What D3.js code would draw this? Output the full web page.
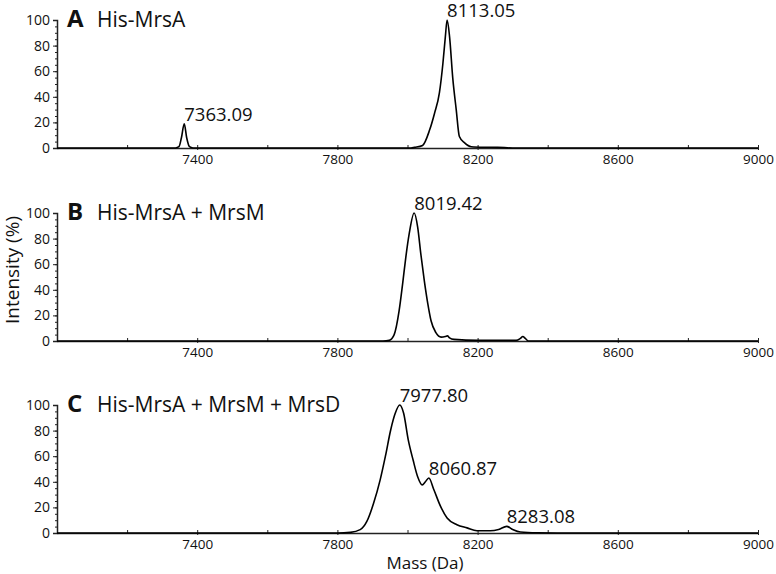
<!DOCTYPE html>
<html>
<head>
<meta charset="utf-8">
<script src="https://cdn.jsdelivr.net/npm/d3@7"></script>
<style>
  body { margin: 0; background: #fff; }
  svg text { font-family: "Open Sans", "Liberation Sans", sans-serif; fill: #111; }
</style>
</head>
<body>
<div id="plot"></div>
<script>
// Panel titles
const panelLetters = ["A", "B", "C"];
const panelTitles = ["His-MrsA", "His-MrsA + MrsM", "His-MrsA + MrsM + MrsD"];

// Spectra (mass in Da, intensity in %)
const massA = [7000, 7338, 7348, 7355, 7363, 7370, 7378, 7388, 8010, 8020, 8043, 8063, 8077, 8091, 8101, 8108, 8113, 8120, 8129, 8139, 8148, 8163, 8182, 8220, 8257, 8300, 9000];
const intA  = [0, 0, 1, 8, 19, 8, 1, 0, 0, 0.5, 2, 14, 27, 43, 66, 87, 100, 87, 55, 30, 9, 4, 1, 0.6, 0.5, 0, 0];

const massB = [7000, 7930, 7948, 7962, 7976, 7986, 7995, 8005, 8019, 8029, 8038, 8048, 8058, 8067, 8081, 8096, 8108, 8114, 8120, 8133, 8200, 8310, 8322, 8329, 8336, 8345, 9000];
const intB  = [0, 0, 0.5, 5, 23.5, 44.5, 65, 84, 100, 89, 68, 47, 29, 16, 6.5, 3, 3.5, 4, 2.5, 1.3, 0.5, 0.5, 2, 3.5, 2, 0, 0];

const massC = [7000, 7800, 7837, 7865, 7884, 7903, 7922, 7937, 7952, 7965, 7977.8, 7989, 8002, 8016, 8029, 8042, 8051, 8060.87, 8075, 8094, 8113, 8141, 8170, 8198, 8236, 8260, 8283.08, 8300, 8322, 8370, 8450, 9000];
const intC  = [0, 0, 0.5, 2.6, 9, 23, 41.5, 60, 80.5, 93.5, 100, 93.5, 73, 57, 44, 37.6, 40, 43, 34, 21, 11.7, 6.5, 4, 1.8, 1.8, 2.8, 5.2, 2.8, 0.8, 0.2, 0, 0];

// Labelled peaks
const peakMassA = [7363.09, 8113.05];
const peakIntA  = [19, 100];
const peakMassB = [8019.42];
const peakIntB  = [100];
const peakMassC = [7977.80, 8060.87, 8283.08];
const peakIntC  = [100, 43, 5.2];

// Axis ticks
const xTicks = [7400, 7800, 8200, 8600, 9000];
const yTicks = [0, 20, 40, 60, 80, 100];

const w = 776, h = 574;
const left = 57, right = 758;
const panelTop = [20, 213, 405];
const panelH = 128;

const panels = [
  {mass: massA, int: intA, pm: peakMassA, pi: peakIntA},
  {mass: massB, int: intB, pm: peakMassB, pi: peakIntB},
  {mass: massC, int: intC, pm: peakMassC, pi: peakIntC}
];

const svg = d3.select("#plot").append("svg")
  .attr("width", w)
  .attr("height", h);

const x = d3.scaleLinear().domain([7000, 9000]).range([left, right]);

panels.forEach((p, i) => {
  const top = panelTop[i];
  const y = d3.scaleLinear().domain([0, 100]).range([top + panelH, top]);

  // minor ticks
  const yMinor = d3.axisLeft(y).tickValues(d3.range(0, 101, 5)).tickSize(2).tickFormat("");
  svg.append("g")
    .attr("transform", `translate(${left},0)`)
    .call(yMinor)
    .call(g => g.select(".domain").remove())
    .selectAll("line").attr("stroke", "#222");

  const yAxis = d3.axisLeft(y).tickValues(yTicks).tickSize(4).tickPadding(3);
  svg.append("g")
    .attr("transform", `translate(${left},0)`)
    .call(yAxis)
    .call(g => g.select(".domain").attr("stroke", "#222").attr("stroke-width", 1.5))
    .call(g => g.selectAll("line").attr("stroke", "#222"))
    .selectAll("text")
    .style("font-size", "14px");

  const xMinor = d3.axisTop(x).tickValues(d3.range(7200, 9001, 200)).tickSize(3).tickFormat("");
  svg.append("g")
    .attr("transform", `translate(0,${top + panelH})`)
    .call(xMinor)
    .call(g => g.select(".domain").remove())
    .selectAll("line").attr("stroke", "#222");

  const xAxis = d3.axisBottom(x).tickValues(xTicks).tickSize(2).tickSizeOuter(0).tickPadding(4).tickFormat(d3.format("d"));
  svg.append("g")
    .attr("transform", `translate(0,${top + panelH})`)
    .call(xAxis)
    .call(g => g.select(".domain").attr("stroke", "#222").attr("stroke-width", 1.5))
    .call(g => g.selectAll("line").attr("stroke", "#222"))
    .selectAll("text")
    .style("font-size", "13.5px");

  // spectrum
  const pts = p.mass.map((m, k) => [m, p.int[k]]);
  svg.append("path")
    .datum(pts)
    .attr("fill", "none")
    .attr("stroke", "#000")
    .attr("stroke-width", 1.6)
    .attr("stroke-linejoin", "round")
    .attr("d", d3.line().x(d => x(d[0])).y(d => y(d[1])).curve(d3.curveMonotoneX));

  // peak labels
  p.pm.forEach((m, k) => {
    svg.append("text")
      .attr("x", x(m))
      .attr("y", y(p.pi[k]) - 3)
      .style("font-size", "18.5px")
      .text(m.toFixed(2));
  });

  // panel title
  const t = svg.append("text")
    .attr("x", 67)
    .attr("y", top + 7)
    .style("font-size", "21px");
  t.append("tspan").style("font-weight", "bold").style("font-size", "24px").text(panelLetters[i]);
  t.append("tspan").attr("x", 97).text(panelTitles[i]);
});

// axis titles
svg.append("text")
  .attr("transform", "rotate(-90)")
  .attr("x", -270)
  .attr("y", 19)
  .attr("text-anchor", "middle")
  .style("font-size", "19px")
  .text("Intensity (%)");

svg.append("text")
  .attr("x", 425)
  .attr("y", 569)
  .attr("text-anchor", "middle")
  .style("font-size", "17px")
  .text("Mass (Da)");
</script>
</body>
</html>
